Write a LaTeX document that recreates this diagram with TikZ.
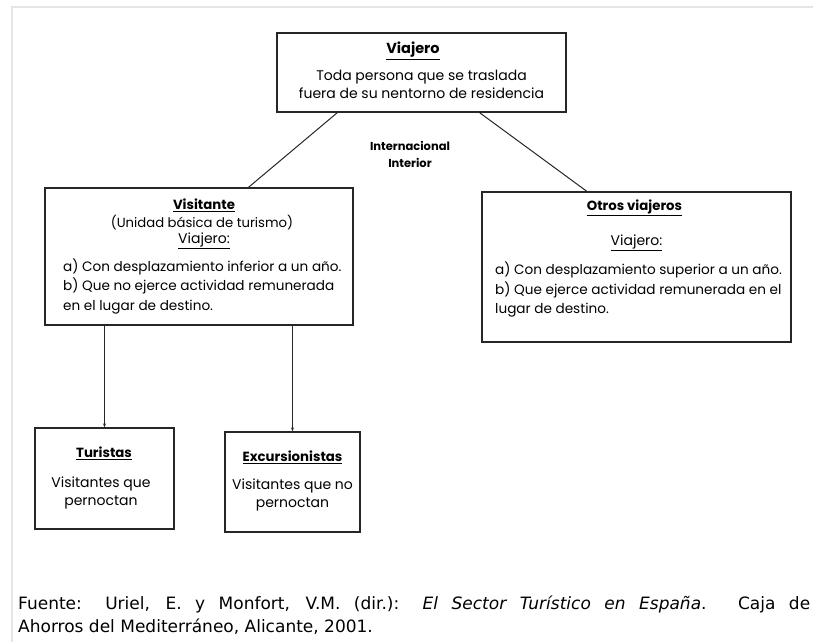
\documentclass[tikz,border=0pt]{standalone}
\usepackage{fontspec}
\setmainfont{Poppins}
\newfontfamily\captionfont{DejaVu Sans}
\usepackage{tikz}
\usetikzlibrary{positioning,calc,arrows.meta}

\tikzset{
  caja/.style={rectangle, draw=black!85, line width=1.3pt},
  texto/.style={inner sep=0pt, font=\fontsize{14}{18}\selectfont},
  lista/.style={texto, anchor=west, align=left, font=\fontsize{13.6}{19.5}\selectfont},
  titulo/.style={texto, font=\fontsize{13.3}{16}\selectfont\bfseries},
  enlace/.style={draw=black!85, line width=1pt},
  flecha/.style={enlace, -{Stealth[length=4pt,width=3pt]}}
}

\begin{document}
\begin{tikzpicture}[x=1pt,y=-1pt]
		\useasboundingbox (0,0) rectangle (813,642);
		% marco gris
		\draw[gray!20, line width=2pt] (813,7) -- (12,7) -- (12,642);
		% cajas
		\node[caja, minimum width=289pt, minimum height=79pt] (viajero) at (421.5,72.5) {};
		\node[caja, minimum width=308pt, minimum height=137pt] (visitante) at (199,256.5) {};
		\node[caja, minimum width=309pt, minimum height=150pt] (otros) at (636.5,267) {};
		\node[caja, minimum width=139pt, minimum height=101pt] (turistas) at (104.5,478.5) {};
		\node[caja, minimum width=135pt, minimum height=100pt] (excur) at (292.5,482) {};
		% textos de Viajero
		\node[titulo, font=\fontsize{14.5}{16}\selectfont\bfseries] (t1) at (413,51) {\underline{Viajero}};
		\node[texto, align=center] (t2) at (421.5,84) {Toda persona que se traslada\\fuera de su nentorno de residencia};
		\node[titulo, align=center, font=\fontsize{11.5}{17}\selectfont\bfseries] (ambito) at (410,154) {Internacional\\Interior};
		% textos de Visitante
		\node[titulo] (v1) at (204,205) {\underline{Visitante}};
		\node[texto, font=\fontsize{13.2}{16}\selectfont] (v2) at (202,223) {(Unidad básica de turismo)};
		\node[texto] (v3) at (204,241) {\underline{Viajero:}};
		\node[lista] (v4) at (63,267) {a) Con desplazamiento inferior a un año.};
		\node[lista] (v5) at (63,296) {b) Que no ejerce actividad remunerada\\en el lugar de destino.};
		% textos de Otros viajeros
		\node[titulo] (o1) at (634.5,208) {\underline{Otros viajeros}};
		\node[texto] (o2) at (636.5,243) {\underline{Viajero:}};
		\node[lista] (o3) at (495,270) {a) Con desplazamiento superior a un año.};
		\node[lista] (o4) at (495,299.5) {b) Que ejerce actividad remunerada en el\\lugar de destino.};
		% textos de Turistas y Excursionistas
		\node[titulo] (tu1) at (104,453) {\underline{Turistas}};
		\node[texto, align=center] (tu2) at (101,493) {Visitantes que\\pernoctan};
		\node[titulo] (ex1) at (292.5,457) {\underline{Excursionistas}};
		\node[texto, align=center] (ex2) at (292.5,495) {Visitantes que no\\pernoctan};
		% conectores
		\draw[enlace] ($(viajero.south west)!0.21!(viajero.south east)$) -- ($(visitante.north west)!0.66!(visitante.north east)$);
		\draw[enlace] ($(viajero.south west)!0.70!(viajero.south east)$) -- ($(otros.north west)!0.34!(otros.north east)$);
		\draw[flecha] (turistas.north |- visitante.south) -- (turistas.north);
		\draw[flecha] (excur.north |- visitante.south) -- (excur.north);
		% fuente
		\node[anchor=west, align=justify, text width=792pt, inner sep=0pt, font=\captionfont\fontsize{17}{23}\selectfont] (fuente) at (18,615) {Fuente: Uriel, E. y Monfort, V.M. (dir.): \textit{El Sector Turístico en España}. Caja de\linebreak Ahorros del Mediterráneo, Alicante, 2001.};
	\end{tikzpicture}
\end{document}
